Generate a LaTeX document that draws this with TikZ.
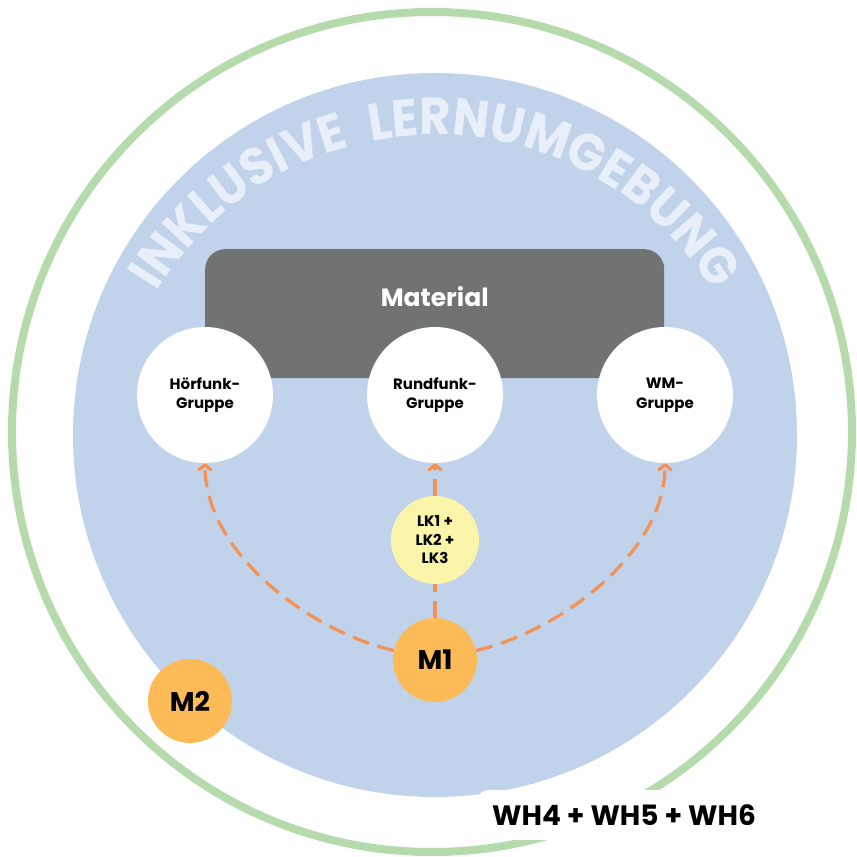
\documentclass[tikz,border=0pt]{standalone}
\usepackage{fontspec}
\setmainfont{Poppins}
\newfontfamily\arcfont[FakeStretch=0.93]{Poppins}
\usetikzlibrary{arrows.meta,decorations.text}

\definecolor{ringgreen}{HTML}{B5DBAC}
\definecolor{envblue}{HTML}{C1D3EB}
\definecolor{arctext}{HTML}{E9EFF8}
\definecolor{matgray}{HTML}{717272}
\definecolor{mcol}{HTML}{FDBB58}
\definecolor{lkcol}{HTML}{FAF5A8}
\definecolor{flowcol}{HTML}{F39254}

\tikzset{
  grp/.style={circle, fill=white, minimum size=136pt, inner sep=0pt, align=center,
    font=\fontsize{15}{19.5}\selectfont\bfseries},
  mnode/.style={circle, fill=mcol, minimum size=84pt, inner sep=0pt,
    font=\fontsize{27}{27}\selectfont\bfseries},
  flow/.style={draw=flowcol, line width=3.2pt, dash pattern=on 17pt off 9pt},
  flowarrow/.style={-{Straight Barb[length=5pt,width=12pt,round]}}
}

\begin{document}
\begin{tikzpicture}[x=1pt,y=1pt]
    \useasboundingbox (0,0) rectangle (857,857);

    % Outer ring
    \draw[ringgreen, line width=8pt] (432,425) circle[radius=420];

    % Learning environment
    \fill[envblue] (435,422) circle[radius=362];
    \path[decorate, decoration={text along path, text align=center, text color=arctext,
        text={|\arcfont\bfseries\fontsize{52}{52}\selectfont|INKLUSIVE{\kern22pt}LERNUMGEBUNG}}]
        (435,397) ++(160:325) arc[start angle=160, end angle=20, radius=325];

    % Material box
    \node[fill=matgray, rounded corners=20pt, minimum width=459pt, minimum height=129pt,
        anchor=north west] (mat) at (205,608) {};
    \node[text=white, font=\fontsize{25}{25}\selectfont\bfseries] (matlabel)
        at ([yshift=-48pt]mat.north) {Material};

    % Groups
    \node[grp] (hor) at (205,462) {Hörfunk-\\Gruppe};
    \node[grp] (rund) at (435,462) {Rundfunk-\\Gruppe};
    \node[grp] (wm) at (665,462) {WM-\\Gruppe};

    % Learning circles and modules
    \node[circle, fill=lkcol, minimum size=88pt, inner sep=0pt, align=center,
        font=\fontsize{15}{18.5}\selectfont\bfseries] (lk) at (435,317) {LK1 +\\LK2 +\\LK3};
    \node[mnode] (m1) at (435,197) {M1};
    \node[mnode] (m2) at (190,156) {M2};

    % Flows
    \draw[flow] (m1) -- (lk);
    \draw[flow, flowarrow] (lk) -- (rund);
    \draw[flow, flowarrow] (m1) to[out=167, in=-90, looseness=0.85] (hor);
    \draw[flow, flowarrow] (m1) to[out=13, in=-90, looseness=0.85] (wm);

    % Label
    \node[fill=white, rounded corners=10pt, minimum width=292pt, minimum height=50pt,
        font=\fontsize{28}{28}\selectfont\bfseries] (wh) at (624,42) {WH4 + WH5 + WH6};
\end{tikzpicture}
\end{document}
